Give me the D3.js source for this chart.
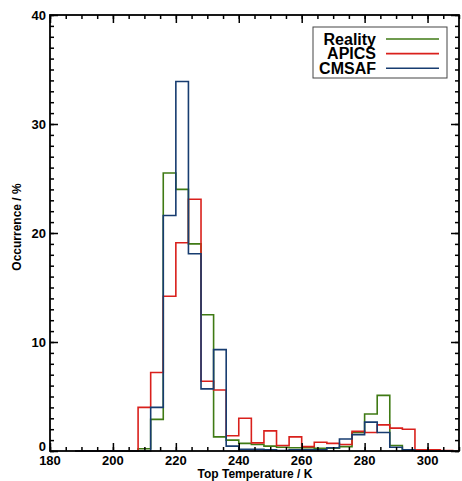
<!DOCTYPE html>
<html><head><meta charset="utf-8">
<script src="https://cdn.jsdelivr.net/npm/d3@7"></script>
<style>body{margin:0;background:#fff}svg{display:block}text{font-family:"Liberation Sans",Arial,sans-serif;font-weight:bold}</style>
</head><body><svg id="c" width="462" height="481"></svg>
<script>
const binStarts = [188,192,196,200,204,208,212,216,220,224,228,232,236,240,244,248,252,256,260,264,268,272,276,280,284,288,292,296,300,304];
const binWidth = 4;
const reality = [0,0,0,0,0,0.2,2.9,25.5,24.0,19.0,12.5,1.3,1.0,0.7,0.6,0.45,0.35,0.3,0.3,0.25,0.25,0.4,1.7,3.4,5.1,0.5,0.1,0,0,0];
const apics   = [0,0,0,0,0,4.0,7.2,14.2,19.1,23.1,6.4,5.6,1.4,3.0,0.75,1.85,0.5,1.3,0.4,0.8,0.7,0.6,1.8,1.7,2.4,2.1,2.0,0.1,0.1,0.05];
const cmsaf   = [0,0,0,0,0,0,4.0,21.6,33.9,18.1,5.7,9.3,0.45,0.15,0.15,0.1,0.05,0.1,0.1,0.1,0.3,1.1,1.5,2.65,1.7,0.35,0.1,0,0,0];
const seriesNames = ["Reality","APICS","CMSAF"];
const seriesColors = ["#3f7a14","#d9201c","#173c70"];
const xTickLabels = [180,200,220,240,260,280,300];
const yTickLabels = [0,10,20,30,40];

const svg = d3.select("#c");
const L=50,R=459,T=15,B=451;
const x = d3.scaleLinear().domain([180,310]).range([L,R]);
const y = d3.scaleLinear().domain([0,40]).range([B,T]);

// histograms
const series=[reality,apics,cmsaf];
const line=d3.line().x(d=>x(d[0])).y(d=>y(d[1]));
series.forEach((vals,si)=>{
  const pts=[[binStarts[0],0]];
  vals.forEach((v,i)=>{pts.push([binStarts[i],v]);pts.push([binStarts[i]+binWidth,v]);});
  pts.push([binStarts[binStarts.length-1]+binWidth,0]);
  svg.append("path").attr("d",line(pts)).attr("fill","none")
    .attr("stroke",seriesColors[si]).attr("stroke-width",1.6);
});

// axes
function styleAxis(g){g.select(".domain").remove();g.selectAll("line").attr("stroke","#000").attr("stroke-width",1.5);}
const xMinor=d3.range(180,311,5), xMajor=xTickLabels;
const yMinor=d3.range(0,41,1), yMajor=yTickLabels;
svg.append("g").attr("transform",`translate(0,${B})`).call(d3.axisTop(x).tickValues(xMinor).tickSize(4).tickFormat("")).call(styleAxis);
svg.append("g").attr("transform",`translate(0,${B})`).call(d3.axisTop(x).tickValues(xMajor).tickSize(8).tickFormat("")).call(styleAxis);
svg.append("g").attr("transform",`translate(0,${T})`).call(d3.axisBottom(x).tickValues(xMinor).tickSize(4).tickFormat("")).call(styleAxis);
svg.append("g").attr("transform",`translate(0,${T})`).call(d3.axisBottom(x).tickValues(xMajor).tickSize(8).tickFormat("")).call(styleAxis);
svg.append("g").attr("transform",`translate(${L},0)`).call(d3.axisRight(y).tickValues(yMinor).tickSize(4).tickFormat("")).call(styleAxis);
svg.append("g").attr("transform",`translate(${L},0)`).call(d3.axisRight(y).tickValues(yMajor).tickSize(8).tickFormat("")).call(styleAxis);
svg.append("g").attr("transform",`translate(${R},0)`).call(d3.axisLeft(y).tickValues(yMinor).tickSize(4).tickFormat("")).call(styleAxis);
svg.append("g").attr("transform",`translate(${R},0)`).call(d3.axisLeft(y).tickValues(yMajor).tickSize(8).tickFormat("")).call(styleAxis);
svg.append("rect").attr("x",L).attr("y",T).attr("width",R-L).attr("height",B-T)
  .attr("fill","none").attr("stroke","#000").attr("stroke-width",1.8);

// tick labels
xTickLabels.forEach(v=>svg.append("text").attr("x",x(v)).attr("y",465).attr("text-anchor","middle").attr("font-size",13).text(v));
yTickLabels.forEach(v=>svg.append("text").attr("x",46).attr("y",v===0?y(v):y(v)+5).attr("text-anchor","end").attr("font-size",13).text(v));

svg.append("text").attr("x",255).attr("y",477.5).attr("text-anchor","middle").attr("font-size",12).text("Top Temperature / K");
svg.append("text").attr("transform","translate(21,227) rotate(-90)").attr("text-anchor","middle").attr("font-size",12).text("Occurrence / %");

// legend
const lg=svg.append("g");
lg.append("rect").attr("x",313).attr("y",27).attr("width",134).attr("height",51).attr("fill","#fff").attr("stroke","#444").attr("stroke-width",1);
seriesNames.forEach((n,i)=>{
  const cy=39+i*14.6;
  lg.append("text").attr("x",376).attr("y",cy+5.5).attr("text-anchor","end").attr("font-size",16).text(n);
  lg.append("line").attr("x1",386).attr("x2",439).attr("y1",cy).attr("y2",cy).attr("stroke",seriesColors[i]).attr("stroke-width",1.6);
});
</script></body></html>
